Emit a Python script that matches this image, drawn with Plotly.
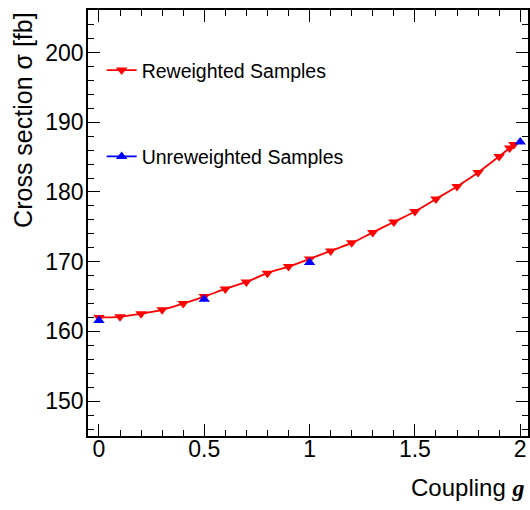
import plotly.graph_objects as go

# Reweighted samples
g_rew = [0.0, 0.1, 0.2, 0.3, 0.4, 0.5, 0.6, 0.7, 0.8, 0.9, 1.0,
         1.1, 1.2, 1.3, 1.4, 1.5, 1.6, 1.7, 1.8, 1.9, 1.95, 1.97]
xs_rew = [162.0, 162.1, 162.55, 163.1, 164.0, 165.0, 166.1, 167.1, 168.35, 169.3, 170.4,
          171.55, 172.7, 174.2, 175.7, 177.2, 179.0, 180.8, 182.8, 185.1, 186.3, 186.8]

# Unreweighted samples
g_unrew = [0.0, 0.5, 1.0, 2.0]
xs_unrew = [161.55, 164.6, 169.9, 187.15]

x_ticks = [0, 0.5, 1, 1.5, 2]
x_tick_labels = ["0", "0.5", "1", "1.5", "2"]
y_ticks = [150, 160, 170, 180, 190, 200]

FONT = "Liberation Sans, Arial, Helvetica, sans-serif"
RED = "#ff0000"
BLUE = "#0000ff"

fig = go.Figure()

fig.add_trace(go.Scatter(
    x=g_rew, y=xs_rew, mode="lines+markers", name="Reweighted Samples",
    line=dict(color=RED, width=1.8, shape="spline"),
    marker=dict(symbol="triangle-down", size=10, color=RED),
    legendgroup="a",
))
fig.add_trace(go.Scatter(
    x=g_unrew, y=xs_unrew, mode="markers", name="Unreweighted Samples",
    marker=dict(symbol="triangle-up", size=10, color=BLUE),
    showlegend=False, legendgroup="b",
))
# legend-only entry (line + marker) for the unreweighted samples
fig.add_trace(go.Scatter(
    x=[None], y=[None], mode="lines+markers", name="Unreweighted Samples",
    line=dict(color=BLUE, width=1.8),
    marker=dict(symbol="triangle-up", size=10, color=BLUE),
    legendgroup="b",
))

axis_common = dict(
    showline=True, linecolor="black", linewidth=1.5, mirror="ticks",
    ticks="inside", ticklen=12, tickwidth=1.2, tickcolor="black",
    showgrid=False, zeroline=False,
    tickfont=dict(family=FONT, size=23, color="black"),
)

fig.update_xaxes(
    range=[-0.052, 2.037], tickvals=x_ticks, ticktext=x_tick_labels,
    ticklabelstandoff=-8,
    minor=dict(dtick=0.1, ticks="inside", ticklen=6, tickwidth=1.2, tickcolor="black", showgrid=False),
    **axis_common,
)
fig.update_yaxes(
    range=[145, 206.1], tickvals=y_ticks,
    ticklabelstandoff=-2,
    minor=dict(dtick=2, ticks="inside", ticklen=6, tickwidth=1.2, tickcolor="black", showgrid=False),
    **axis_common,
)

fig.add_annotation(
    text="Coupling <span style='font-family:Liberation Serif'><b><i>g</i></b></span>",
    xref="paper", yref="paper", x=0.9955, y=-0.12, xanchor="right", yanchor="middle",
    showarrow=False, font=dict(family=FONT, size=24, color="black"),
)
fig.add_annotation(
    text="Cross section σ [fb]",
    xref="paper", yref="paper", x=-0.148, y=1.0, xanchor="center", yanchor="top",
    textangle=-90, showarrow=False, font=dict(family=FONT, size=25, color="black"),
)

fig.update_layout(
    width=530, height=510,
    margin=dict(l=88, r=0, t=10, b=74),
    paper_bgcolor="white", plot_bgcolor="white",
    showlegend=True,
    legend=dict(
        x=0.031, y=0.904, xanchor="left", yanchor="top",
        bgcolor="rgba(0,0,0,0)", borderwidth=0,
        traceorder="grouped", tracegroupgap=58,
        font=dict(family=FONT, size=19.5, color="black"),
    ),
)

fig.write_html("out.html")
